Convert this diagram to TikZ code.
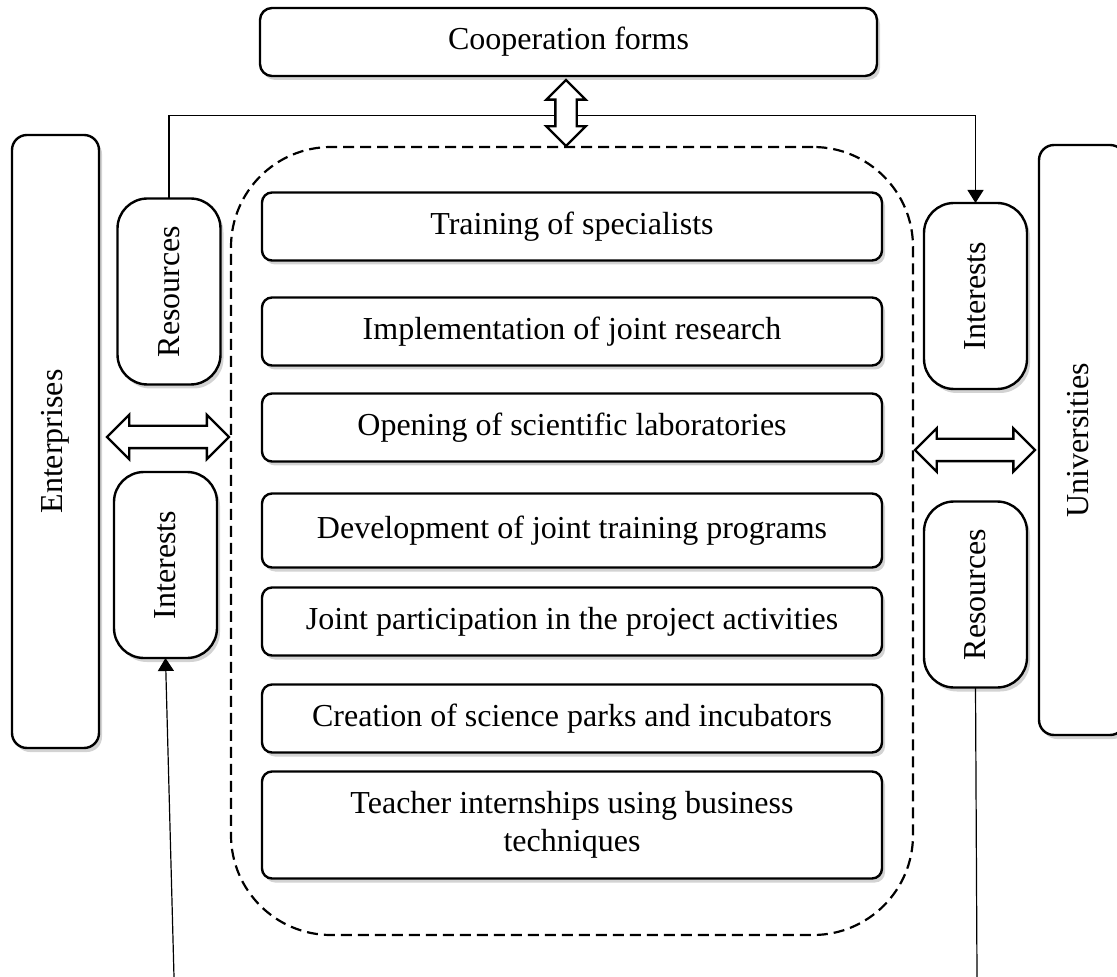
\documentclass[tikz,border=0pt]{standalone}
\usepackage{fontspec}
\setmainfont{Liberation Serif}
\usetikzlibrary{arrows.meta,calc}
\usetikzlibrary{shadows}
\usetikzlibrary{positioning,shapes}
\tikzstyle{link}=[-, line width=0.6pt]
\tikzstyle{form}=[rectangle, draw, fill=white, text=black, line width=1.2pt,
		drop shadow={shadow xshift=1.5pt, shadow yshift=-2pt, opacity=0.35},
		text centered, rounded corners=5pt, inner sep=0pt, outer sep=0pt,
		font=\fontsize{16}{19}\selectfont]
\tikzstyle{item}=[form, minimum width=310pt, minimum height=34pt]
\tikzstyle{side}=[form, rounded corners=15pt, minimum width=51.5pt, minimum height=93pt]
\tikzstyle{twin}=[double arrow, draw, fill=white, line width=1.2pt,
		inner xsep=0pt, inner ysep=5pt, double arrow head extend=5.5pt]

\begin{document}
\begin{tikzpicture}[x=0.5pt,y=-0.5pt]
    \useasboundingbox (0,0) rectangle (1117,977);

    \node (Zone) [draw, line width=1.1pt, dash pattern=on 5.5pt off 3pt,
    		      rounded corners=50pt, minimum width=341pt, minimum height=394pt]
    		      at (572,541) {};

    \node (Coop) [form, rounded corners=6pt, minimum width=308.5pt,
    		      minimum height=34pt] at (568.5,42) {Cooperation forms};

    % forms of cooperation
    \node (Training) [item] at (572,226.5) {Training of specialists};
    \node (Research) [item, below=18.5pt of Training] {Implementation of joint research};
    \node (Labs) [item, below=14pt of Research] {Opening of scientific laboratories};
    \node (Programs) [item, minimum height=37pt, below=16pt of Labs]
    		{Development of joint training programs};
    \node (Projects) [item, below=10pt of Programs]
    		{Joint participation in the project activities};
    \node (Parks) [item, below=14.5pt of Projects]
    		{Creation of science parks and incubators};
    \node (Intern) [item, minimum height=53.5pt, align=center, below=9.5pt of Parks]
    		{Teacher internships using business\\techniques};

    % partners
    \node (Enter) [form, rounded corners=7.5pt, minimum width=43.5pt,
    		       minimum height=306.5pt] at (55.5,441.5) {\rotatebox{90}{Enterprises}};
    \node (Univ) [form, rounded corners=7.5pt, minimum width=43pt,
    		      minimum height=295pt] at (1082,440)
    		{\rotatebox{90}{Universities}\hspace*{3.5pt}};

    \node (ResE) [side] at (169,291.5) {\rotatebox{90}{Resources}};
    \node (IntE) [side] at (165.5,565) {\rotatebox{90}{Interests}};
    \node (IntU) [side] at (975.5,296) {\rotatebox{90}{Interests}};
    \node (ResU) [side] at (975.5,594.5) {\rotatebox{90}{Resources}};

    \coordinate (EnterIn) at (174,977);
    \coordinate (UnivOut) at (977,977);

    \draw [link, -{Triangle[width=8pt,length=6.5pt]}] (ResE.north) -- ++(0,-83) -| (IntU.north);
    \draw [link, -{Triangle[width=8pt,length=6.5pt]}] (EnterIn) -- (IntE.south);
    \draw [link] (ResU.south) -- (UnivOut);

    \node (UpDown) [twin, rotate=90, minimum height=33pt, inner ysep=4.75pt,
    		        double arrow head extend=4.5pt] at (566,113) {};
    \node (LeftTwin) [twin, minimum height=61pt] at (168,437) {};
    \node (RightTwin) [twin, minimum height=60pt, double arrow head extend=5.25pt]
    		at (975,450) {};

  \end{tikzpicture}
\end{document}
